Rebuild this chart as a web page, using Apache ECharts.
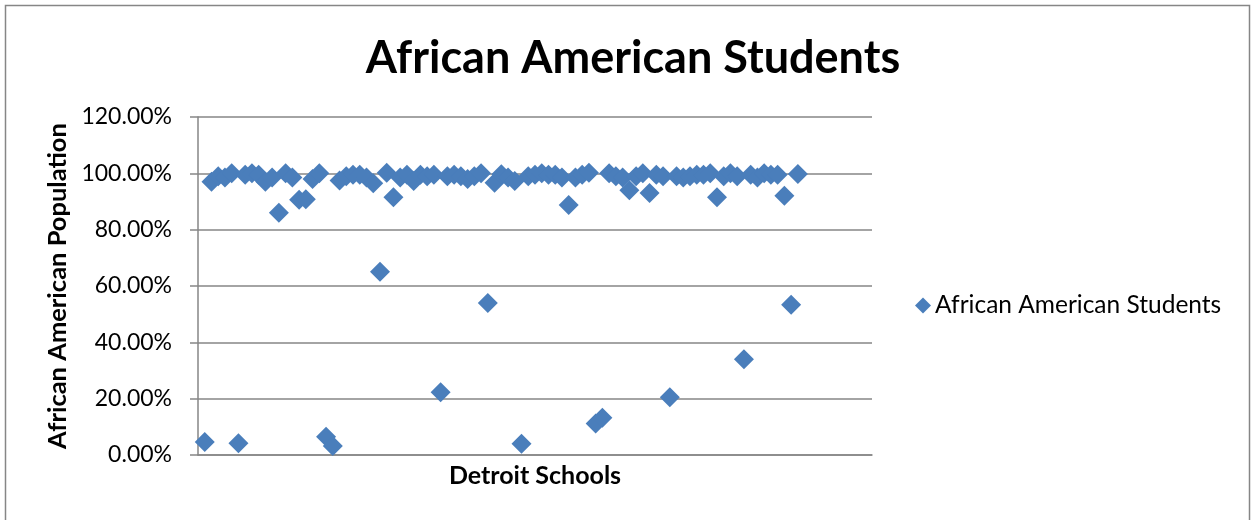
<!DOCTYPE html>
<html>
<head>
<meta charset="utf-8">
<script src="https://cdn.jsdelivr.net/npm/echarts@6/dist/echarts.min.js"></script>
<style>
  html, body { margin: 0; padding: 0; background: #fff; }
  #chart { width: 1251px; height: 520px; }
</style>
</head>
<body>
<div id="chart"></div>
<script>
// Share of African American students, one value per Detroit school (in %)
const schoolIndex = [
  1, 2, 3, 4, 5, 6, 7, 8, 9, 10, 11, 12, 13, 14, 15, 16, 17, 18, 19, 20,
  21, 22, 23, 24, 25, 26, 27, 28, 29, 30, 31, 32, 33, 34, 35, 36, 37, 38, 39, 40,
  41, 42, 43, 44, 45, 46, 47, 48, 49, 50, 51, 52, 53, 54, 55, 56, 57, 58, 59, 60,
  61, 62, 63, 64, 65, 66, 67, 68, 69, 70, 71, 72, 73, 74, 75, 76, 77, 78, 79, 80,
  81, 82, 83, 84, 85, 86, 87, 88, 89
];
const africanAmericanShare = [
  4.6, 97.0, 99.0, 98.5, 100.0, 4.2, 99.5, 100.0, 99.5, 97.0,
  98.5, 86.0, 100.0, 98.5, 90.6, 90.8, 98.0, 100.0, 6.5, 3.2,
  97.5, 99.0, 99.5, 99.5, 98.5, 96.5, 65.1, 100.2, 91.5, 98.5,
  99.5, 97.3, 99.5, 99.0, 99.5, 22.3, 99.0, 99.5, 99.0, 98.0,
  99.0, 100.0, 54.0, 96.7, 99.7, 98.5, 97.3, 4.0, 99.0, 99.5,
  100.0, 99.5, 99.5, 98.5, 88.8, 98.5, 99.5, 100.2, 11.2, 13.2,
  100.0, 99.0, 98.5, 94.0, 99.0, 100.0, 93.0, 99.5, 99.0, 20.5,
  99.0, 98.5, 99.0, 99.5, 99.5, 100.0, 91.5, 99.0, 100.0, 99.0,
  34.0, 99.5, 98.5, 100.0, 99.5, 99.5, 92.0, 53.3, 99.8
];
const yTicks = [0, 20, 40, 60, 80, 100, 120];

const seriesName = 'African American Students';
const points = schoolIndex.map((x, i) => [x, africanAmericanShare[i]]);

const chart = echarts.init(document.getElementById('chart'));
const fontFamily = 'Lato, "Open Sans", sans-serif';

chart.setOption({
  animation: false,
  backgroundColor: '#ffffff',
  title: {
    text: 'African American Students',
    left: 628,
    top: 31,
    textAlign: 'center',
    textStyle: { fontFamily, fontSize: 45, fontWeight: 'bold', color: '#000' }
  },
  legend: {
    data: [{ name: seriesName, icon: 'diamond' }],
    left: 910,
    top: 288,
    itemWidth: 16,
    itemHeight: 16,
    itemGap: 4,
    textStyle: { fontFamily, fontSize: 24.5, color: '#000', padding: [0, 0, 0, -1] }
  },
  grid: { left: 198, right: 379, top: 117, bottom: 65, containLabel: false },
  xAxis: {
    type: 'value',
    min: 0,
    max: 100,
    name: 'Detroit Schools',
    nameLocation: 'middle',
    nameGap: 8,
    nameTextStyle: { fontFamily, fontSize: 25, fontWeight: 'bold', color: '#000' },
    axisLine: { show: true, lineStyle: { color: '#868686', width: 1.5 } },
    axisTick: { show: false },
    axisLabel: { show: false },
    splitLine: { show: false }
  },
  yAxis: {
    type: 'value',
    min: yTicks[0],
    max: yTicks[yTicks.length - 1],
    interval: 20,
    name: 'African American Population',
    nameLocation: 'middle',
    nameGap: 127,
    nameTextStyle: { fontFamily, fontSize: 25.5, fontWeight: 'bold', color: '#000' },
    axisLine: { show: true, lineStyle: { color: '#868686', width: 1.5 } },
    axisTick: { show: true, length: 8, inside: false, lineStyle: { color: '#868686', width: 1.5 } },
    axisLabel: {
      fontFamily, fontSize: 23, color: '#000', margin: 26,
      formatter: v => v.toFixed(2) + '%'
    },
    splitLine: { show: true, lineStyle: { color: '#868686', width: 1.5 } }
  },
  series: [{
    name: seriesName,
    type: 'scatter',
    data: points,
    symbol: 'diamond',
    symbolSize: [20, 20],
    itemStyle: { color: '#4A7EBB', opacity: 1 }
  }],
  graphic: [{
    type: 'rect',
    shape: { x: 5.5, y: 5.5, width: 1244, height: 540 },
    style: { fill: 'none', stroke: '#868686', lineWidth: 1.5 },
    silent: true,
    z: -1
  }]
});
</script>
</body>
</html>
